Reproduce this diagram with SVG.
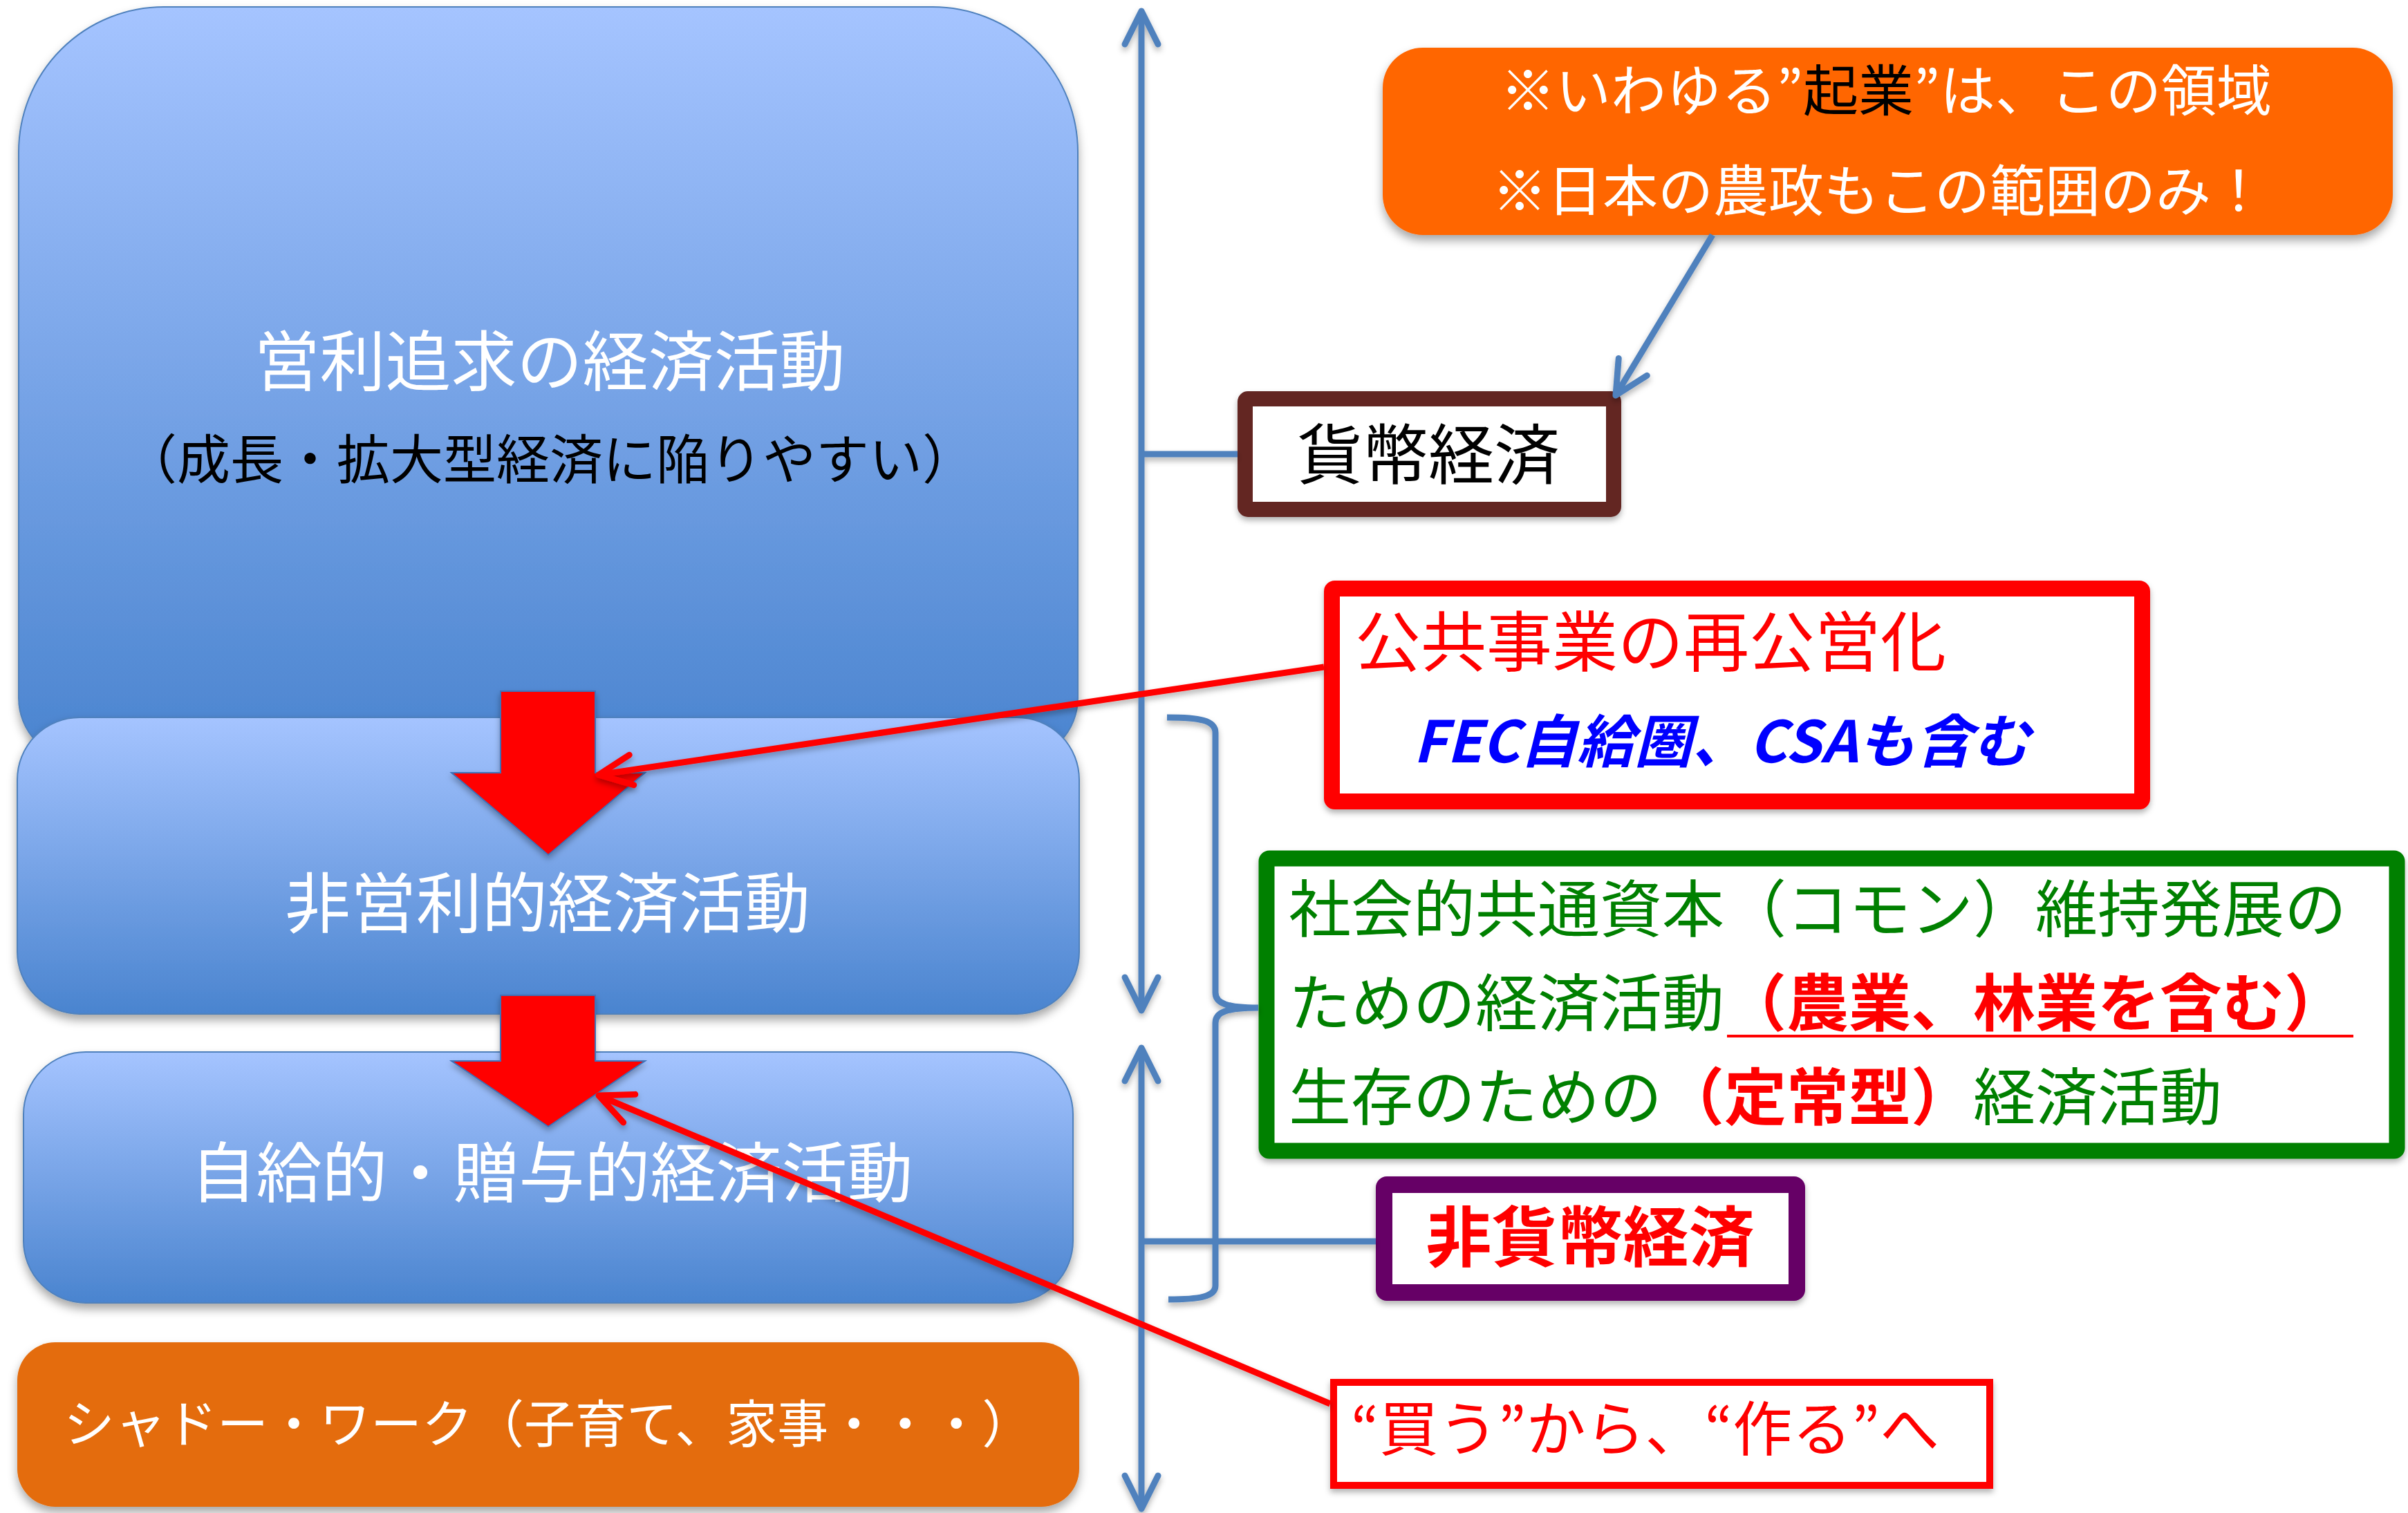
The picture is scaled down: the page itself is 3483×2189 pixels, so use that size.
<svg xmlns="http://www.w3.org/2000/svg" width="3483" height="2189" viewBox="0 0 3483 2189">
<defs>
<style>
text{font-family:"Noto Sans CJK JP","Noto Sans CJK SC",sans-serif}
.w{fill:#fff}
.k{fill:#000}
.r{fill:#FF0000}
.g{fill:#008000}
.b{font-weight:bold}
.blue{fill:url(#gBlue);stroke:#4F81BD;stroke-width:2}
.ax{stroke:#4F81BD;stroke-width:9;fill:none}
.rl{stroke:#FF0000;stroke-width:9;fill:none}
.blk{fill:#FF0000;stroke:#3F72B8;stroke-width:2}
</style>
<linearGradient id="gBlue" x1="0" y1="0" x2="0" y2="1">
<stop offset="0" stop-color="#A5C4FF"/>
<stop offset="1" stop-color="#4A84CF"/>
</linearGradient>
<filter id="sh" filterUnits="userSpaceOnUse" x="0" y="0" width="3483" height="2189">
<feDropShadow dx="0" dy="8" stdDeviation="7" flood-color="#000" flood-opacity="0.35"/>
</filter>
<filter id="shL" filterUnits="userSpaceOnUse" x="0" y="0" width="3483" height="2189">
<feDropShadow dx="0" dy="5" stdDeviation="4" flood-color="#000" flood-opacity="0.3"/>
</filter>
<marker id="aB" markerUnits="userSpaceOnUse" viewBox="-60 -32 72 64" refX="0" refY="0" markerWidth="72" markerHeight="64" orient="auto-start-reverse">
<path d="M-48,-24 L0,0 L-48,24" fill="none" stroke="#4F81BD" stroke-width="9" stroke-linecap="round" stroke-linejoin="round"/>
</marker>
<marker id="aR" markerUnits="userSpaceOnUse" viewBox="-60 -32 72 64" refX="0" refY="0" markerWidth="72" markerHeight="64" orient="auto">
<path d="M-48,-22 L0,0 L-48,22" fill="none" stroke="#FF0000" stroke-width="9" stroke-linecap="round" stroke-linejoin="round"/>
</marker>
</defs>
<rect width="3483" height="2189" fill="#fff"/>

<g id="node-profit" filter="url(#sh)">
<path class="blue" d="M237,10 H1349 A210,210 0 0 1 1559,220 V1010 A90,90 0 0 1 1469,1100 H117 A90,90 0 0 1 27,1010 V220 A210,210 0 0 1 237,10 Z"/>
<text class="w" x="795" y="558" font-size="95" text-anchor="middle">営利追求の経済活動</text>
<text class="k" x="795" y="693" font-size="77" text-anchor="middle">（成長・拡大型経済に陥りやすい）</text>
</g>

<g id="node-nonprofit" filter="url(#sh)">
<rect class="blue" x="25" y="1038" width="1536" height="429" rx="90"/>
<text class="w" x="792" y="1342" font-size="95" text-anchor="middle">非営利的経済活動</text>
</g>

<g id="node-selfsupply" filter="url(#sh)">
<rect class="blue" x="34" y="1522" width="1518" height="363" rx="90"/>
<text class="w" x="798" y="1732" font-size="95" text-anchor="middle">自給的・贈与的経済活動</text>
</g>

<g id="node-shadow" filter="url(#sh)">
<rect x="25" y="1942" width="1536" height="238" rx="55" fill="#E46C0A"/>
<text class="w" x="92" y="2087" font-size="74">シャドー・ワーク（子育て、家事・・・）</text>
</g>

<g id="block-arrows" filter="url(#shL)">
<polygon class="blk" points="724,1000 861,1000 861,1118 933,1118 793,1237 653,1118 724,1118"/>
<polygon class="blk" points="724,1440 861,1440 861,1535 933,1535 793,1630 653,1535 724,1535"/>
</g>

<g id="node-callout" filter="url(#sh)">
<rect x="2000" y="69" width="1461" height="271" rx="58" fill="#FF6600"/>
<text class="w" x="2728" y="160" font-size="80" text-anchor="middle">※いわゆる”<tspan class="k">起業</tspan>”は、この領域</text>
<text class="w" x="2718" y="305" font-size="80" text-anchor="middle">※日本の農政もこの範囲のみ！</text>
</g>

<g id="node-money" filter="url(#shL)">
<rect x="1801" y="577" width="533" height="160" rx="4" fill="#fff" stroke="#632523" stroke-width="22"/>
<text class="k" x="2066" y="693" font-size="95" text-anchor="middle">貨幣経済</text>
</g>

<g id="node-public" filter="url(#shL)">
<rect x="1926.5" y="851.5" width="1172" height="308" rx="4" fill="#fff" stroke="#FF0000" stroke-width="23"/>
<text class="r" x="1960" y="964" font-size="95">公共事業の再公営化</text>
<text x="2044" y="1103" font-size="83" font-weight="bold" font-style="italic" fill="#0000FF">FEC自給圏、CSAも含む</text>
</g>

<g id="node-common" filter="url(#shL)">
<rect x="1832" y="1242" width="1635" height="423" rx="4" fill="#fff" stroke="#008000" stroke-width="23"/>
<text class="g" x="1864" y="1348" font-size="90">社会的共通資本（コモン）維持発展の</text>
<text class="g" x="1864" y="1484" font-size="90">ための経済活動<tspan class="r b">（農業、林業を含む）</tspan></text>
<line x1="2498" y1="1499" x2="3404" y2="1499" stroke="#FF0000" stroke-width="4"/>
<text class="g" x="1864" y="1620" font-size="90">生存のための<tspan class="r b">（定常型）</tspan>経済活動</text>
</g>

<g id="node-nonmoney" filter="url(#shL)">
<rect x="2002" y="1714" width="597" height="156" rx="4" fill="#fff" stroke="#660066" stroke-width="24"/>
<text class="r b" x="2300" y="1825" font-size="95" text-anchor="middle">非貨幣経済</text>
</g>

<g id="node-make" filter="url(#shL)">
<rect x="1929" y="2000" width="949" height="149" fill="#fff" stroke="#FF0000" stroke-width="10"/>
<text class="r" x="1954" y="2099" font-size="86">“買う”から、“作る”へ</text>
</g>

<g id="connectors" filter="url(#shL)">
<line class="ax" x1="1651" y1="16" x2="1651" y2="1462" marker-start="url(#aB)" marker-end="url(#aB)"/>
<line class="ax" x1="1651" y1="1516" x2="1651" y2="2183" marker-start="url(#aB)" marker-end="url(#aB)"/>
<line class="ax" x1="1651" y1="657" x2="1790" y2="657"/>
<line class="ax" x1="1651" y1="1796" x2="1990" y2="1796"/>
<path class="ax" d="M1688,1038 C1735,1038 1758,1042 1758,1060 L1758,1436 C1758,1452 1775,1458 1820,1458 C1775,1458 1758,1464 1758,1480 L1758,1860 C1758,1876 1735,1880 1690,1880"/>
<line class="ax" x1="2477" y1="340" x2="2337" y2="572" marker-end="url(#aB)"/>
<line class="rl" x1="1915" y1="965" x2="866" y2="1121" marker-end="url(#aR)"/>
<line class="rl" x1="1924" y1="2031" x2="866" y2="1585" marker-end="url(#aR)"/>
</g>
</svg>
